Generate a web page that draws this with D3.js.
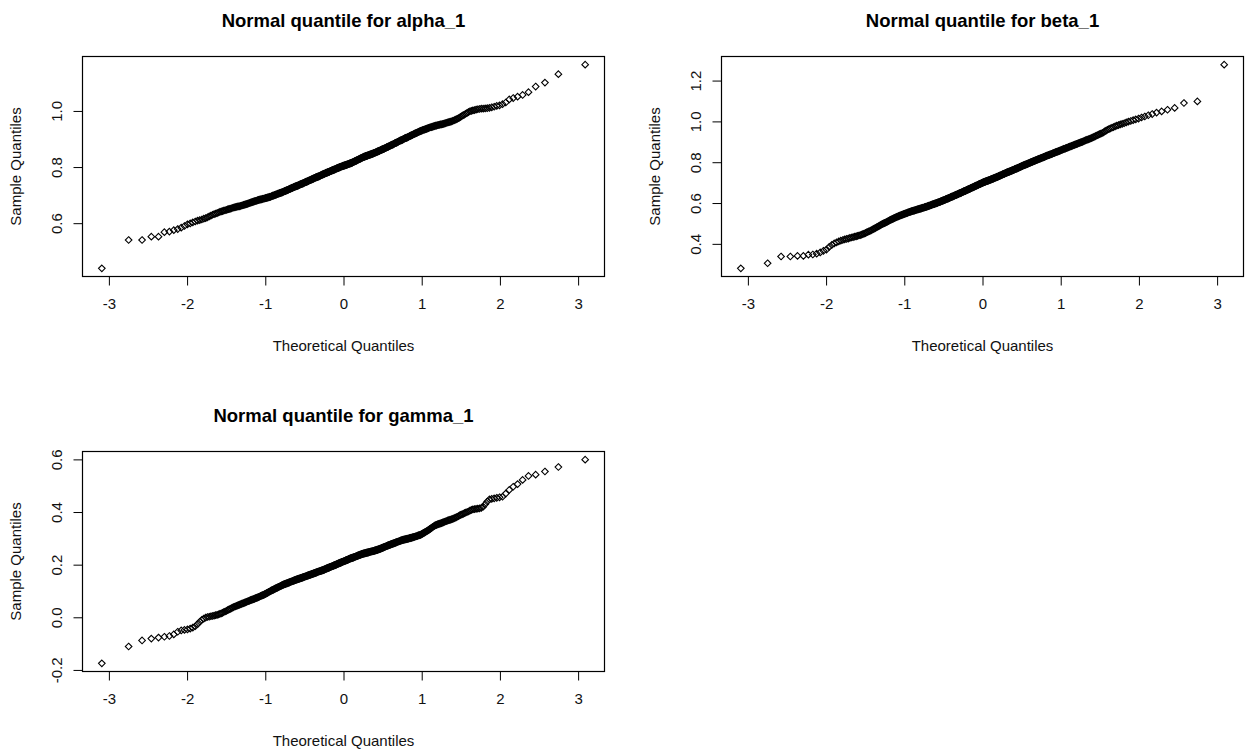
<!DOCTYPE html>
<html>
<head>
<meta charset="utf-8">
<script src="https://cdn.jsdelivr.net/npm/d3@7"></script>
<style>
  body { margin: 0; background: #fff; }
  svg { display: block; font-family: Arial, "Liberation Sans", sans-serif; }
</style>
</head>
<body>
<div class="qqPlots"></div>
<script>
// sorted samples (n = 500)
const alphaSample = [
  .439,.540,.540,.552,.552,.568,.570,.575,.579,.584,
  .590,.596,.599,.603,.606,.609,.611,.613,.616,.618,
  .621,.624,.627,.630,.632,.634,.636,.638,.640,.642,
  .643,.645,.646,.647,.649,.650,.651,.652,.654,.655,
  .656,.657,.658,.659,.660,.660,.661,.662,.663,.664,
  .665,.666,.667,.668,.669,.670,.671,.672,.673,.674,
  .675,.676,.677,.678,.679,.679,.680,.681,.682,.683,
  .684,.684,.685,.685,.686,.687,.687,.688,.688,.689,
  .690,.690,.691,.692,.692,.693,.694,.694,.695,.696,
  .697,.698,.698,.699,.700,.701,.702,.702,.703,.704,
  .705,.705,.706,.707,.708,.708,.709,.710,.710,.711,
  .712,.713,.714,.714,.715,.716,.717,.718,.718,.719,
  .720,.721,.722,.722,.723,.724,.725,.726,.726,.727,
  .728,.729,.729,.730,.731,.731,.732,.733,.733,.734,
  .735,.735,.736,.737,.738,.738,.739,.740,.740,.741,
  .742,.742,.743,.744,.745,.745,.746,.747,.747,.748,
  .749,.749,.750,.751,.752,.752,.753,.754,.754,.755,
  .756,.756,.757,.758,.759,.759,.760,.761,.761,.762,
  .763,.763,.764,.764,.765,.766,.766,.767,.767,.768,
  .769,.769,.770,.771,.772,.772,.773,.774,.774,.775,
  .776,.776,.777,.777,.778,.779,.779,.780,.780,.781,
  .782,.782,.783,.783,.784,.785,.785,.786,.786,.787,
  .788,.788,.789,.789,.790,.791,.791,.792,.792,.793,
  .794,.794,.795,.795,.796,.797,.797,.798,.798,.799,
  .800,.800,.801,.801,.802,.802,.803,.803,.804,.804,
  .805,.805,.806,.806,.807,.807,.808,.808,.809,.809,
  .810,.810,.811,.811,.812,.812,.813,.813,.814,.814,
  .815,.816,.816,.817,.818,.818,.819,.820,.820,.821,
  .822,.822,.823,.824,.825,.825,.826,.827,.827,.828,
  .829,.829,.830,.831,.832,.832,.833,.834,.834,.835,
  .836,.836,.837,.837,.838,.839,.839,.840,.840,.841,
  .841,.842,.842,.843,.843,.844,.844,.845,.845,.846,
  .847,.847,.848,.848,.849,.850,.850,.851,.851,.852,
  .853,.853,.854,.855,.856,.856,.857,.858,.858,.859,
  .860,.860,.861,.862,.863,.863,.864,.865,.865,.866,
  .867,.868,.868,.869,.870,.871,.872,.872,.873,.874,
  .875,.876,.876,.877,.878,.879,.880,.880,.881,.882,
  .883,.884,.885,.886,.886,.887,.888,.889,.890,.891,
  .892,.893,.894,.895,.895,.896,.897,.898,.899,.900,
  .901,.902,.903,.904,.904,.905,.906,.907,.908,.909,
  .910,.911,.912,.913,.914,.915,.916,.917,.918,.919,
  .920,.921,.922,.923,.924,.925,.926,.927,.928,.929,
  .930,.931,.932,.933,.933,.934,.935,.936,.937,.938,
  .939,.940,.941,.942,.942,.943,.944,.945,.946,.947,
  .948,.948,.949,.950,.950,.951,.952,.952,.953,.954,
  .955,.956,.957,.958,.959,.960,.961,.962,.963,.965,
  .966,.968,.970,.972,.974,.976,.979,.982,.985,.987,
  .990,.993,.996,.999,1.000,1.002,1.003,1.005,1.006,1.007,
  1.008,1.008,1.009,1.010,1.011,1.013,1.015,1.018,1.020,1.024,
  1.030,1.041,1.046,1.051,1.057,1.067,1.087,1.101,1.131,1.165
];

const betaSample = [
  .280,.305,.338,.338,.341,.341,.347,.348,.352,.358,
  .366,.372,.385,.395,.402,.407,.412,.416,.419,.422,
  .424,.426,.429,.431,.433,.435,.437,.439,.441,.443,
  .445,.448,.450,.453,.456,.458,.461,.463,.466,.469,
  .472,.475,.477,.480,.483,.485,.488,.491,.493,.496,
  .498,.500,.502,.504,.506,.508,.510,.512,.515,.517,
  .519,.520,.522,.524,.526,.527,.529,.531,.532,.534,
  .535,.537,.538,.539,.541,.542,.543,.544,.546,.547,
  .548,.549,.550,.551,.553,.554,.555,.556,.557,.558,
  .559,.560,.561,.562,.563,.563,.564,.565,.566,.567,
  .568,.569,.569,.570,.571,.572,.573,.573,.574,.575,
  .576,.577,.577,.578,.579,.580,.581,.581,.582,.583,
  .584,.585,.586,.587,.587,.588,.589,.590,.591,.592,
  .593,.594,.594,.595,.596,.597,.598,.598,.599,.600,
  .601,.602,.603,.604,.604,.605,.606,.607,.608,.609,
  .610,.611,.612,.613,.613,.614,.615,.616,.617,.618,
  .619,.620,.621,.622,.622,.623,.624,.625,.626,.627,
  .628,.629,.630,.631,.631,.632,.633,.634,.635,.636,
  .637,.638,.639,.640,.640,.641,.642,.643,.644,.645,
  .646,.647,.648,.649,.649,.650,.651,.652,.653,.654,
  .655,.656,.657,.658,.658,.659,.660,.661,.662,.663,
  .664,.665,.666,.667,.667,.668,.669,.670,.671,.672,
  .673,.674,.675,.676,.676,.677,.678,.679,.680,.681,
  .682,.683,.684,.685,.685,.686,.687,.688,.689,.690,
  .691,.692,.693,.694,.694,.695,.696,.697,.698,.699,
  .700,.701,.701,.702,.703,.704,.705,.705,.706,.707,
  .708,.708,.709,.710,.710,.711,.712,.712,.713,.714,
  .715,.716,.716,.717,.718,.719,.720,.720,.721,.722,
  .723,.724,.724,.725,.726,.727,.728,.728,.729,.730,
  .731,.732,.733,.734,.734,.735,.736,.737,.738,.739,
  .740,.741,.742,.743,.743,.744,.745,.746,.747,.748,
  .749,.750,.750,.751,.752,.753,.754,.754,.755,.756,
  .757,.758,.759,.760,.760,.761,.762,.763,.764,.765,
  .766,.767,.768,.769,.769,.770,.771,.772,.773,.774,
  .775,.776,.777,.778,.779,.780,.781,.782,.783,.784,
  .785,.786,.787,.788,.788,.789,.790,.791,.792,.793,
  .794,.795,.796,.797,.798,.799,.800,.801,.802,.803,
  .804,.805,.806,.807,.808,.809,.810,.811,.812,.813,
  .814,.815,.816,.817,.818,.819,.820,.821,.822,.823,
  .824,.825,.826,.827,.828,.830,.831,.832,.833,.834,
  .835,.836,.837,.838,.839,.840,.841,.843,.844,.845,
  .846,.847,.849,.850,.851,.852,.853,.854,.856,.857,
  .858,.860,.861,.862,.864,.865,.866,.867,.869,.870,
  .871,.873,.874,.876,.877,.878,.880,.881,.883,.884,
  .886,.887,.889,.890,.892,.894,.895,.897,.898,.900,
  .902,.904,.906,.908,.910,.911,.913,.915,.917,.919,
  .922,.924,.927,.930,.932,.935,.938,.940,.943,.946,
  .951,.955,.959,.962,.966,.969,.972,.976,.979,.982,
  .985,.988,.991,.995,.999,1.002,1.006,1.010,1.014,1.019,
  1.024,1.030,1.036,1.043,1.049,1.057,1.066,1.090,1.098,1.278
];

const gammaSample = [
  -.175,-.111,-.088,-.081,-.077,-.074,-.071,-.065,-.055,-.050,
  -.048,-.046,-.043,-.039,-.034,-.026,-.017,-.010,-.005,-.001,
  .001,.002,.004,.005,.006,.008,.009,.011,.013,.015,
  .017,.020,.022,.024,.027,.029,.031,.033,.036,.038,
  .040,.041,.043,.044,.046,.047,.049,.050,.052,.053,
  .054,.056,.057,.058,.060,.061,.062,.063,.065,.066,
  .067,.068,.069,.070,.072,.073,.074,.075,.076,.077,
  .078,.080,.081,.082,.083,.084,.085,.086,.088,.089,
  .090,.092,.093,.094,.096,.097,.098,.099,.101,.102,
  .103,.104,.105,.106,.108,.109,.110,.111,.112,.113,
  .114,.115,.116,.117,.118,.119,.120,.121,.122,.123,
  .124,.125,.126,.126,.127,.128,.129,.129,.130,.131,
  .132,.132,.133,.134,.135,.135,.136,.137,.137,.138,
  .139,.139,.140,.141,.142,.142,.143,.144,.144,.145,
  .146,.146,.147,.147,.148,.149,.149,.150,.150,.151,
  .152,.152,.153,.153,.154,.155,.155,.156,.156,.157,
  .158,.158,.159,.159,.160,.161,.161,.162,.162,.163,
  .164,.164,.165,.165,.166,.167,.167,.168,.168,.169,
  .170,.170,.171,.171,.172,.173,.173,.174,.174,.175,
  .175,.176,.176,.177,.177,.178,.178,.179,.179,.180,
  .181,.181,.182,.183,.184,.184,.185,.186,.186,.187,
  .188,.188,.189,.189,.190,.191,.191,.192,.192,.193,
  .194,.194,.195,.195,.196,.197,.197,.198,.198,.199,
  .200,.200,.201,.202,.203,.203,.204,.205,.205,.206,
  .207,.207,.208,.208,.209,.210,.210,.211,.211,.212,
  .213,.213,.214,.214,.215,.216,.216,.217,.217,.218,
  .219,.219,.220,.221,.222,.222,.223,.224,.224,.225,
  .225,.226,.226,.227,.227,.228,.228,.229,.229,.230,
  .231,.231,.232,.232,.233,.234,.234,.235,.235,.236,
  .237,.237,.238,.238,.239,.240,.240,.241,.241,.242,
  .242,.243,.243,.243,.244,.244,.245,.245,.246,.246,
  .246,.247,.247,.247,.248,.248,.249,.249,.250,.250,
  .250,.251,.251,.251,.252,.252,.253,.253,.254,.254,
  .255,.255,.256,.256,.257,.258,.258,.259,.259,.260,
  .261,.261,.262,.263,.264,.264,.265,.266,.266,.267,
  .268,.268,.269,.270,.271,.271,.272,.273,.273,.274,
  .275,.275,.276,.277,.278,.278,.279,.280,.280,.281,
  .282,.282,.283,.284,.285,.285,.286,.287,.287,.288,
  .289,.289,.290,.291,.292,.292,.293,.294,.294,.295,
  .295,.296,.296,.297,.297,.298,.298,.299,.299,.300,
  .301,.301,.302,.302,.303,.304,.304,.305,.305,.306,
  .307,.308,.308,.309,.310,.311,.312,.312,.313,.314,
  .316,.317,.319,.320,.322,.323,.325,.326,.328,.329,
  .331,.333,.335,.337,.339,.341,.343,.345,.347,.349,
  .350,.351,.353,.354,.355,.356,.357,.358,.360,.361,
  .362,.364,.365,.366,.368,.369,.370,.371,.373,.374,
  .376,.378,.380,.382,.384,.387,.389,.391,.393,.396,
  .398,.400,.402,.405,.408,.410,.411,.412,.413,.414,
  .416,.420,.430,.440,.448,.450,.452,.454,.456,.458,
  .470,.484,.496,.506,.522,.537,.542,.554,.571,.599
];

const panelTitles = ["Normal quantile for alpha_1", "Normal quantile for beta_1", "Normal quantile for gamma_1"];
const xTicks = [-3, -2, -1, 0, 1, 2, 3];
const alphaTicks = [0.6, 0.8, 1.0];
const betaTicks = [0.4, 0.6, 0.8, 1.0, 1.2];
const gammaTicks = [-0.2, 0.0, 0.2, 0.4, 0.6];

// inverse normal cdf (Acklam)
function qnorm(p) {
	const a = [-39.69683028665376, 220.9460984245205, -275.9285104469687, 138.3577518672690, -30.66479806614716, 2.506628277459239];
	const b = [-54.47609879822406, 161.5858368580409, -155.6989798598866, 66.80131188771972, -13.28068155288572];
	const c = [-0.007784894002430293, -0.3223964580411365, -2.400758277161838, -2.549671010115603, 4.374664141464968, 2.938163982698783];
	const d = [0.007784695709041462, 0.3224671290700398, 2.445134137142996, 3.754408661907416];
	const tail = (q) => (((((c[0]*q+c[1])*q+c[2])*q+c[3])*q+c[4])*q+c[5]) / ((((d[0]*q+d[1])*q+d[2])*q+d[3])*q+1);
	if (p < 0.02425) return tail(Math.sqrt(-2 * Math.log(p)));
	if (p > 1 - 0.02425) return -tail(Math.sqrt(-2 * Math.log(1 - p)));
	const q = p - 0.5, r = q * q;
	return (((((a[0]*r+a[1])*r+a[2])*r+a[3])*r+a[4])*r+a[5])*q / (((((b[0]*r+b[1])*r+b[2])*r+b[3])*r+b[4])*r+1);
}

// like R: qqnorm uses ppoints, plot extends the data range by 4%
function qqData(sample) {
	const y = sample.slice().sort(d3.ascending);
	const n = y.length;
	return y.map((v, i) => ({ x: qnorm((i + 1 - 0.5) / n), y: v }));
}
function padded(ext) {
	const pad = (ext[1] - ext[0]) * 0.04;
	return [ext[0] - pad, ext[1] + pad];
}

const width = 1248, height = 752;
const plotW = 522, plotH = 220;

const svg = d3.select(".qqPlots")
	.append("svg")
	.attr("width", width)
	.attr("height", height);

const panels = [
	{ title: panelTitles[0], sample: alphaSample, yTicks: alphaTicks, left: 82.5, top: 56.5 },
	{ title: panelTitles[1], sample: betaSample, yTicks: betaTicks, left: 721.5, top: 56.5 },
	{ title: panelTitles[2], sample: gammaSample, yTicks: gammaTicks, left: 82.5, top: 451.5 }
];

const diamond = d3.symbolDiamond2
	? d3.symbol(d3.symbolDiamond2, 28)
	: d3.symbol(d3.symbolDiamond, 34);

panels.forEach(p => {
	const data = qqData(p.sample);

	let x = d3.scaleLinear()
		.domain(padded(d3.extent(data, d => d.x)))
		.range([0, plotW]);
	let y = d3.scaleLinear()
		.domain(padded(d3.extent(data, d => d.y)))
		.range([plotH, 0]);

	let g = svg.append("g")
		.attr("transform", "translate(" + p.left + "," + p.top + ")");

	// title
	g.append("text")
		.attr("x", plotW / 2)
		.attr("y", -29.5)
		.attr("text-anchor", "middle")
		.style("font-size", "18.5px")
		.style("font-weight", "bold")
		.attr("fill", "#000")
		.text(p.title);

	// x axis
	let xAxis = g.append("g")
		.attr("transform", "translate(0," + plotH + ")")
		.call(d3.axisBottom(x).tickValues(xTicks).tickSize(9).tickSizeOuter(0).tickPadding(13).tickFormat(d => String(d)));
	xAxis.select(".domain").remove();
	xAxis.selectAll("line").attr("stroke", "#000");
	xAxis.selectAll("text")
		.attr("fill", "#111")
		.style("font-family", "Arial, 'Liberation Sans', sans-serif")
		.style("font-size", "15px");

	// y axis, labels parallel to the axis as in R
	let yAxis = g.append("g")
		.call(d3.axisLeft(y).tickValues(p.yTicks).tickSize(9).tickSizeOuter(0).tickFormat(d => d.toFixed(1)));
	yAxis.select(".domain").remove();
	yAxis.selectAll("line").attr("stroke", "#000");
	yAxis.selectAll("text")
		.attr("x", null)
		.attr("dy", null)
		.attr("text-anchor", "middle")
		.attr("transform", "translate(-21,0) rotate(-90)")
		.attr("fill", "#111")
		.style("font-family", "Arial, 'Liberation Sans', sans-serif")
		.style("font-size", "15px");

	// axis titles
	g.append("text")
		.attr("x", plotW / 2)
		.attr("y", plotH + 74.5)
		.attr("text-anchor", "middle")
		.style("font-size", "15px")
		.attr("fill", "#111")
		.text("Theoretical Quantiles");
	g.append("text")
		.attr("transform", "translate(-62," + (plotH / 2) + ") rotate(-90)")
		.attr("text-anchor", "middle")
		.style("font-size", "15px")
		.attr("fill", "#111")
		.text("Sample Quantiles");

	// points
	g.selectAll("path.pt")
		.data(data)
		.enter()
		.append("path")
		.attr("class", "pt")
		.attr("d", diamond)
		.attr("transform", d => "translate(" + x(d.x) + "," + y(d.y) + ")")
		.attr("fill", "none")
		.attr("stroke", "#000")
		.attr("stroke-width", 1.1);

	// frame
	g.append("rect")
		.attr("width", plotW)
		.attr("height", plotH)
		.attr("fill", "none")
		.attr("stroke", "#000")
		.attr("stroke-width", 1.2);
});
</script>
</body>
</html>
